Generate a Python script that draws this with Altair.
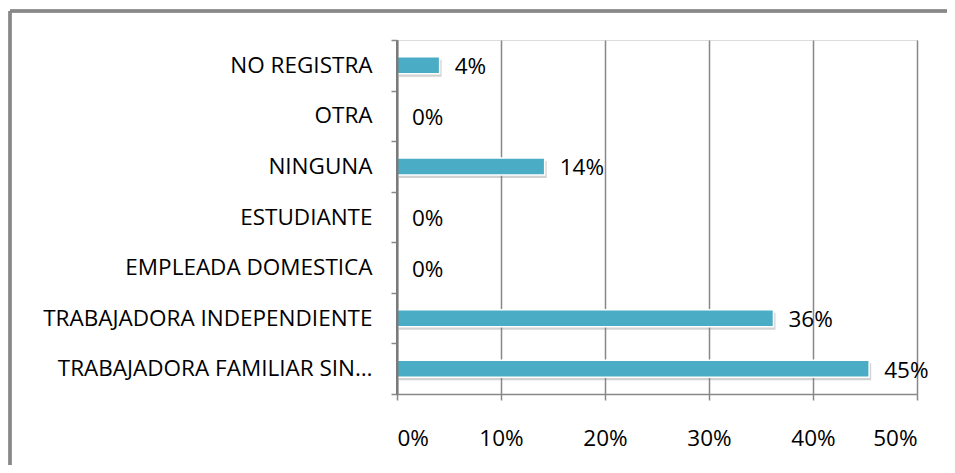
import altair as alt
import pandas as pd

categories = [
    "NO REGISTRA",
    "OTRA",
    "NINGUNA",
    "ESTUDIANTE",
    "EMPLEADA DOMESTICA",
    "TRABAJADORA INDEPENDIENTE",
    "TRABAJADORA FAMILIAR SIN…",
]
values = [0.041, 0.0, 0.142, 0.0, 0.0, 0.362, 0.454]
x_ticks = [0, 0.1, 0.2, 0.3, 0.4, 0.5]

df = pd.DataFrame({"cat": categories, "val": values})

FONT = "Open Sans"
FS = 22.5
BAR = "#4BACC6"
GRID = "#888888"

y_enc = alt.Y(
    "cat:N",
    sort=categories,
    title=None,
    scale=alt.Scale(paddingInner=0, paddingOuter=0),
    axis=alt.Axis(
        tickBand="extent",
        tickSize=6,
        tickColor=GRID,
        tickWidth=1.5,
        domain=True,
        domainColor="#7a7a7a",
        domainWidth=2,
        labelPadding=19,
        labelFont=FONT,
        labelFontSize=FS,
        labelColor="#000000",
        labelLimit=500,
        grid=False,
        zindex=2,
    ),
)
x_enc = alt.X(
    "val:Q",
    title=None,
    scale=alt.Scale(domain=[0, 0.5], nice=False),
    axis=alt.Axis(
        values=x_ticks,
        format=".0%",
        tickSize=6,
        tickColor=GRID,
        tickWidth=1.5,
        domainColor=GRID,
        domainWidth=1.5,
        grid=True,
        gridColor=GRID,
        gridWidth=1.5,
        labelPadding=27,
        labelFont=FONT,
        labelFontSize=FS,
        labelColor="#000000",
    ),
)

base = alt.Chart(df)

shadow = base.transform_filter("datum.val > 0").mark_bar(
    color="#7f7f7f", opacity=0.35, xOffset=2, yOffset=3, size=17
).encode(x=x_enc, y=y_enc)
bars = base.transform_filter("datum.val > 0").mark_bar(
    color=BAR, stroke="white", strokeWidth=1.5, size=17
).encode(x=x_enc, y=y_enc)
labels = base.mark_text(
    align="left", baseline="middle", dx=15, dy=2, font=FONT, fontSize=FS, color="#000000"
).encode(x=x_enc, y=y_enc, text=alt.Text("val:Q", format=".0%"))

# y-axis line at x = 0, drawn over the bars
y_axis_line = alt.Chart(df).mark_rule(color="#7a7a7a", strokeWidth=2).encode(
    x=alt.datum(0)
)

frame_top = alt.Chart(df).mark_rule(color="#888888", strokeWidth=2.5).encode(
    x=alt.value(-387), x2=alt.value(560), y=alt.value(-29)
)
frame_left = alt.Chart(df).mark_rule(color="#888888", strokeWidth=2.5).encode(
    x=alt.value(-387), y=alt.value(-29), y2=alt.value(440)
)

chart = (
    alt.layer(frame_top, frame_left, shadow, bars, y_axis_line, labels)
    .properties(
        width=520,
        height=354,
        autosize=alt.AutoSizeParams(type="none"),
        padding={"left": 389, "top": 32, "right": 30, "bottom": 71},
    )
    .configure_view(stroke=None)
    .configure(background="white")
)

chart.save("out.html", embed_options={"renderer": "svg", "actions": False})
